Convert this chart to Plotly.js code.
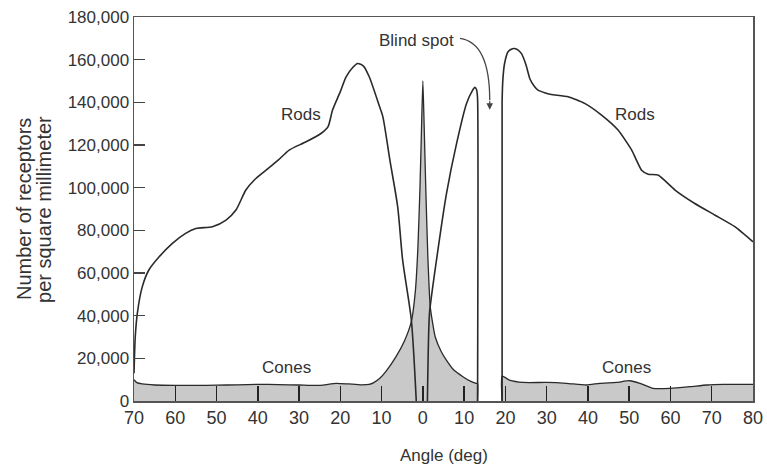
<!DOCTYPE html>
<html>
<head>
<meta charset="utf-8">
<script src="https://cdn.plot.ly/plotly-3.0.1.min.js"></script>
<style>html,body{margin:0;padding:0;background:#fff;}#chart{width:767px;height:468px;}</style>
</head>
<body>
<div id="chart"></div>
<script>
// Angle (deg, negative = left of fovea) and receptor densities (per mm^2)
var leftRodsX = [-70, -69.7, -69.2, -68, -66.4, -63.9, -60.7, -57.5, -55, -51, -47.7, -45.3, -42.9, -40.9, -38, -35, -32.4, -28.3, -24.7, -23, -21.9, -20, -18.6, -17, -15.8, -14.4, -13, -10.5, -9.7, -8, -6.1, -4.9, -2.8, -1.6];
var leftRodsY = [13000, 30000, 41000, 53500, 61400, 67600, 73900, 78600, 80900, 81700, 84800, 89500, 98900, 103500, 108200, 113000, 117600, 121500, 125400, 128500, 136300, 145000, 151900, 156300, 158200, 157000, 152000, 138000, 133300, 113000, 91000, 66000, 38000, 0];

var centerRodsX = [1.1, 1.6, 3.3, 5.7, 8.2, 10.6, 12.0, 12.6, 13.0, 13.25, 13.25];
var centerRodsY = [0, 41000, 66000, 97000, 121000, 139600, 145500, 147000, 146000, 142000, 0];

var rightRodsX = [19.2, 19.2, 19.4, 19.8, 20.6, 21.3, 22.2, 23.1, 23.9, 25, 25.9, 27, 27.9, 29.5, 31.1, 35.2, 39.2, 43.3, 47.3, 50.6, 53, 54.6, 57, 61.1, 65.9, 70.8, 75.6, 80];
var rightRodsY = [0, 140000, 151000, 158200, 163600, 164800, 165200, 164500, 162800, 157500, 151200, 147500, 145700, 144500, 143700, 142600, 139500, 134000, 127000, 117600, 108200, 106300, 105900, 98900, 92600, 87100, 81700, 74600];

var leftConesX = [-70, -69.3, -68, -65, -60, -55, -50, -45, -40, -35, -30, -25, -21, -18, -15, -13, -12, -10.5, -8.9, -6.5, -4.5, -2.8, -1.8, -1.2, -0.7, -0.3, 0, 0.3, 0.7, 1.2, 1.8, 3, 4.5, 5.7, 7.5, 9.7, 11.5, 12.9, 13.25, 13.25];
var leftConesY = [10000, 8600, 8000, 7500, 7300, 7300, 7400, 7600, 7800, 7700, 7500, 7300, 8300, 8000, 7600, 7800, 8500, 10500, 14000, 20800, 28000, 37200, 52000, 72000, 100000, 130000, 150000, 130000, 100000, 68000, 44000, 30000, 23000, 19200, 14500, 11400, 9300, 8300, 8200, 0];

var rightConesX = [19.2, 19.2, 21, 24.3, 29.9, 34.8, 39.6, 42.9, 46.9, 50.1, 52.6, 55.8, 59.9, 64.7, 68.8, 72.8, 77.6, 80];
var rightConesY = [0, 11600, 9800, 8700, 8700, 8300, 7500, 8300, 8700, 9500, 8300, 5900, 5900, 6700, 7500, 7800, 7800, 7800];

var xTickVals = [-70, -60, -50, -40, -30, -20, -10, 0, 10, 20, 30, 40, 50, 60, 70, 80];
var xTickText = ['70', '60', '50', '40', '30', '20', '10', '0', '10', '20', '30', '40', '50', '60', '70', '80'];
var yTickVals = [0, 20000, 40000, 60000, 80000, 100000, 120000, 140000, 160000, 180000];
var yTickText = ['0', '20,000', '40,000', '60,000', '80,000', '100,000', '120,000', '140,000', '160,000', '180,000'];

var FONT = 'Liberation Sans, Arial, sans-serif';
var fillGray = '#c9c9c9';
var lineDark = '#2a2a2a';

function curve(xs, ys, opts) {
  var t = {x: xs, y: ys, type: 'scatter', mode: 'lines', hoverinfo: 'skip',
    line: {color: lineDark, width: 1.6, shape: 'spline', smoothing: 0.7}};
  for (var k in opts) t[k] = opts[k];
  return t;
}

var traces = [
  curve(leftConesX, leftConesY, {fill: 'tozeroy', fillcolor: fillGray, line: {color: lineDark, width: 1.3, shape: 'spline', smoothing: 0.5}}),
  curve(rightConesX, rightConesY, {fill: 'tozeroy', fillcolor: fillGray, line: {color: lineDark, width: 1.3, shape: 'spline', smoothing: 0.5}}),
  curve(leftRodsX, leftRodsY, {}),
  curve(centerRodsX, centerRodsY, {line: {color: lineDark, width: 1.6, shape: 'spline', smoothing: 0.5}}),
  curve(rightRodsX, rightRodsY, {line: {color: lineDark, width: 1.6, shape: 'spline', smoothing: 0.5}})
];

var textFont = {family: FONT, size: 17, color: '#333'};

var layout = {
  width: 767, height: 468,
  margin: {l: 134, r: 14, t: 17, b: 67},
  paper_bgcolor: '#fff', plot_bgcolor: '#fff',
  showlegend: false,
  font: {family: FONT, color: '#333'},
  xaxis: {
    range: [-70, 80], tickmode: 'array', tickvals: xTickVals, ticktext: xTickText,
    ticks: 'inside', ticklen: 15, tickwidth: 1.5, tickcolor: '#222',
    showline: true, linecolor: '#555', linewidth: 1.5, mirror: true,
    showgrid: false, zeroline: false, layer: 'above traces',
    tickfont: {family: FONT, size: 18, color: '#333'}
  },
  yaxis: {
    range: [0, 180000], tickmode: 'array', tickvals: yTickVals, ticktext: yTickText,
    ticks: 'inside', ticklen: 11, tickwidth: 1.3, tickcolor: '#444',
    showline: true, linecolor: '#555', linewidth: 1.5, mirror: true,
    showgrid: false, zeroline: false, layer: 'above traces',
    tickfont: {family: FONT, size: 17, color: '#333'}
  },
  shapes: [
    {type: 'path', xref: 'x', yref: 'y', path: 'M 9.0,170000 Q 16.2,168000 16.2,141000',
     line: {color: '#444', width: 1.3}}
  ],
  annotations: [
    {x: -29.5, y: 134500, xref: 'x', yref: 'y', text: 'Rods', showarrow: false, font: textFont},
    {x: 51.5, y: 134500, xref: 'x', yref: 'y', text: 'Rods', showarrow: false, font: textFont},
    {x: -33, y: 15500, xref: 'x', yref: 'y', text: 'Cones', showarrow: false, font: textFont},
    {x: 49.3, y: 15500, xref: 'x', yref: 'y', text: 'Cones', showarrow: false, font: textFont},
    {x: -1.5, y: 169000, xref: 'x', yref: 'y', text: 'Blind spot', showarrow: false, font: textFont},
    {x: 16.2, y: 136500, xref: 'x', yref: 'y', text: '', showarrow: true, ax: 0, ay: -10,
     arrowhead: 2, arrowsize: 1, arrowwidth: 1.3, arrowcolor: '#444', standoff: 0},
    {x: 0.5, y: -0.143, xref: 'paper', yref: 'paper', text: 'Angle (deg)', showarrow: false,
     xanchor: 'center', yanchor: 'middle', font: textFont},
    {x: -0.1777, y: 0.5, xref: 'paper', yref: 'paper', text: 'Number of receptors', showarrow: false,
     textangle: -90, xanchor: 'center', yanchor: 'middle', font: {family: FONT, size: 20, color: '#333'}},
    {x: -0.1454, y: 0.5, xref: 'paper', yref: 'paper', text: 'per square millimeter', showarrow: false,
     textangle: -90, xanchor: 'center', yanchor: 'middle', font: {family: FONT, size: 20, color: '#333'}}
  ]
};

Plotly.newPlot('chart', traces, layout, {displayModeBar: false, staticPlot: true});
</script>
</body>
</html>
